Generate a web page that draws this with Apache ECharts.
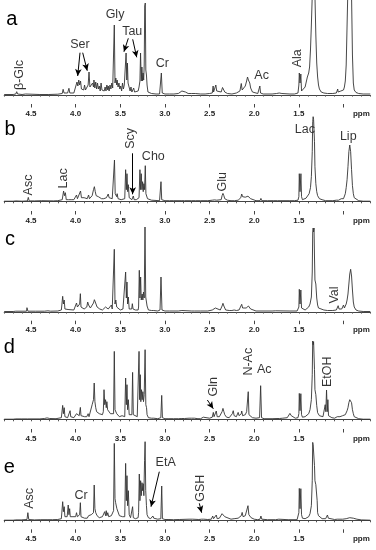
<!DOCTYPE html>
<html><head><meta charset="utf-8">
<script src="https://cdn.jsdelivr.net/npm/echarts@6/dist/echarts.min.js"></script>
<style>html,body{margin:0;padding:0;background:#fff}#c{width:376px;height:550px}</style>
</head><body><div id="c"></div>
<script>
// ---------- data (ppm, intensity above baseline) ----------
const tickLabels = [4.5, 4.0, 3.5, 3.0, 2.5, 2.0, 1.5];
const majorTicks = [4.5, 4.0, 3.5, 3.0, 2.5, 2.0, 1.5, 1.0];
const unitLabel = 'ppm';
const panelNames = ['a', 'b', 'c', 'd', 'e'];

const specA = [[4.80,0.5],[4.70,0.5],[4.67,1],[4.66,3.3],[4.65,1],[4.60,0.5],[4.56,1],[4.55,0.5],[4.40,0.5],[4.30,0.5],[4.20,0.8],[4.15,1.5],[4.14,5.7],[4.13,2],[4.09,2],[4.075,6.7],[4.065,2],[4.02,2],[4.00,4],[3.985,13],[3.975,9],[3.965,15],[3.955,10],[3.945,14],[3.935,6],[3.92,8],[3.91,5],[3.90,10],[3.89,5],[3.87,6],[3.86,10],[3.85,23],[3.84,8],[3.82,10],[3.81,12],[3.80,8],[3.795,15],[3.785,7],[3.775,13],[3.765,6],[3.755,12],[3.745,6],[3.735,9],[3.725,4],[3.715,12],[3.705,5],[3.69,6],[3.68,4],[3.67,8],[3.66,4],[3.65,10],[3.64,5],[3.635,9],[3.625,4],[3.615,10],[3.605,6],[3.595,12],[3.585,7],[3.575,8],[3.567,70],[3.559,12],[3.55,17],[3.54,10],[3.535,15],[3.525,8],[3.515,12],[3.505,6],[3.495,9],[3.485,4],[3.475,12],[3.465,6],[3.455,10],[3.445,8],[3.435,42],[3.427,15],[3.42,32],[3.413,12],[3.405,10],[3.39,4],[3.38,8],[3.37,3],[3.36,3],[3.35,7],[3.34,3],[3.32,3],[3.30,4],[3.29,8],[3.28,14],[3.273,42],[3.265,14],[3.258,28],[3.25,14],[3.245,22],[3.238,15],[3.232,30],[3.226,89],[3.22,92],[3.214,25],[3.207,20],[3.20,10],[3.19,3],[3.17,1.5],[3.15,1.5],[3.14,3],[3.13,1],[3.10,1],[3.06,1],[3.05,2],[3.04,22],[3.03,2],[3.00,1],[2.95,1],[2.90,1],[2.85,1.5],[2.81,4],[2.79,5],[2.77,3],[2.74,1.5],[2.70,1.5],[2.68,2.5],[2.66,1.5],[2.60,1],[2.55,1],[2.50,1.5],[2.47,2],[2.46,9],[2.455,3],[2.44,4],[2.43,10],[2.42,4],[2.41,5],[2.40,2],[2.37,3],[2.355,7.5],[2.345,6],[2.33,3],[2.30,1.5],[2.25,1],[2.20,2],[2.16,4],[2.145,11.5],[2.135,5],[2.12,5],[2.10,9],[2.085,14],[2.075,18],[2.065,15],[2.05,12],[2.04,7],[2.02,3],[2.00,2],[1.96,1.5],[1.945,2],[1.937,9],[1.929,2],[1.90,1],[1.80,1],[1.75,1.5],[1.72,2],[1.69,1.5],[1.60,1],[1.55,1],[1.51,2],[1.50,10],[1.495,22],[1.487,12],[1.478,21],[1.47,4],[1.46,3],[1.45,4],[1.43,8],[1.415,14],[1.405,18],[1.39,22],[1.38,28],[1.37,45],[1.36,70],[1.35,100],[1.34,130],[1.33,130],[1.32,100],[1.31,60],[1.30,32],[1.29,18],[1.28,10],[1.27,6],[1.25,3],[1.22,2],[1.18,1.5],[1.12,1.5],[1.08,2],[1.07,3],[1.065,6],[1.06,3],[1.05,3],[1.045,5],[1.04,3],[1.03,4],[1.02,6],[1.015,4],[1.01,6],[1.0,5],[0.99,8],[0.98,14],[0.97,30],[0.96,70],[0.95,110],[0.94,135],[0.92,135],[0.91,100],[0.90,40],[0.89,12],[0.88,5],[0.86,2.5],[0.83,1.5],[0.78,1],[0.70,1]];

const specB = [[4.80,0.5],[4.70,0.5],[4.67,0.8],[4.66,1.8],[4.65,0.8],[4.60,0.5],[4.54,0.8],[4.53,4.3],[4.52,0.8],[4.46,0.8],[4.45,1.3],[4.44,0.8],[4.38,1],[4.37,1.5],[4.36,1],[4.25,0.8],[4.20,1],[4.15,2],[4.135,10.7],[4.125,6],[4.115,9],[4.105,2],[4.08,2],[4.065,3.5],[4.05,2],[4.02,2],[4.00,3],[3.99,6.7],[3.98,3],[3.96,4],[3.945,10.7],[3.935,4],[3.92,3],[3.905,4],[3.89,2.5],[3.87,3],[3.855,6.7],[3.845,3],[3.83,3],[3.815,6],[3.80,12],[3.79,15],[3.78,10],[3.77,6],[3.76,4],[3.745,5],[3.73,3],[3.71,3],[3.70,2],[3.685,3],[3.67,2.5],[3.655,4],[3.645,3],[3.635,7.7],[3.625,4],[3.615,6],[3.605,3],[3.59,3],[3.575,4],[3.565,41.7],[3.557,8],[3.55,10],[3.54,5],[3.535,8],[3.525,3],[3.51,3],[3.49,2],[3.48,3],[3.47,2],[3.45,3],[3.44,32],[3.432,12],[3.425,28],[3.417,10],[3.41,17],[3.40,4],[3.39,3],[3.38,4],[3.37,2],[3.36,3],[3.354,5.7],[3.345,2],[3.32,2],[3.30,2.5],[3.29,4],[3.28,32],[3.272,12],[3.265,28],[3.257,12],[3.25,20],[3.243,10],[3.236,18],[3.228,12],[3.22,36],[3.213,8],[3.205,8],[3.195,3],[3.18,1.5],[3.15,1.5],[3.14,2],[3.13,1],[3.06,1],[3.052,2],[3.044,20],[3.036,2],[3.0,1],[2.95,1],[2.90,1],[2.81,1],[2.80,1.5],[2.78,1],[2.70,1],[2.68,1.5],[2.66,1],[2.60,1],[2.52,1],[2.47,1.5],[2.455,2.7],[2.445,1.8],[2.43,3],[2.42,1.5],[2.37,2],[2.36,6],[2.35,8.3],[2.34,6],[2.33,3],[2.30,1.5],[2.26,1],[2.25,1.5],[2.22,1],[2.18,1.5],[2.15,4],[2.14,7.7],[2.13,5],[2.115,4],[2.10,4.5],[2.085,6],[2.07,5.5],[2.055,5],[2.04,3],[2.02,1.5],[1.98,1],[1.935,1],[1.925,3.3],[1.915,1],[1.85,1],[1.78,1],[1.74,1],[1.72,1.3],[1.70,1],[1.60,1],[1.55,1],[1.51,1.5],[1.50,5],[1.495,28],[1.487,10],[1.477,28],[1.47,5],[1.46,2],[1.44,2.5],[1.42,3.5],[1.40,5],[1.385,8],[1.37,14],[1.36,25],[1.35,50],[1.345,80],[1.34,85],[1.335,82],[1.33,84],[1.325,60],[1.32,35],[1.31,18],[1.30,10],[1.29,6],[1.27,3],[1.24,2],[1.20,1],[1.12,1],[1.08,1.5],[1.065,2.5],[1.055,1.5],[1.04,2],[1.025,3],[1.015,2],[1.0,3],[0.99,4],[0.98,8],[0.97,14],[0.96,22],[0.95,35],[0.94,50],[0.93,56.7],[0.92,50],[0.91,32],[0.90,16],[0.89,8],[0.88,4],[0.86,2],[0.83,1],[0.78,0.5],[0.70,0.5]];

const specC = [[4.80,0.5],[4.70,0.5],[4.67,0.8],[4.66,1.3],[4.65,0.8],[4.55,0.8],[4.545,4.3],[4.535,0.8],[4.45,0.8],[4.35,0.8],[4.31,1.2],[4.28,0.8],[4.2,1],[4.16,2],[4.145,15.7],[4.137,8],[4.128,12],[4.12,3],[4.10,2],[4.085,2.5],[4.075,3],[4.065,2],[4.02,2],[4.00,4],[3.99,9],[3.98,5],[3.97,7],[3.96,4],[3.955,8],[3.947,18.3],[3.94,5],[3.92,3],[3.905,3],[3.89,2.5],[3.875,5],[3.865,10],[3.855,7],[3.845,8],[3.835,4],[3.82,4],[3.80,9],[3.79,12.3],[3.78,10],[3.77,8],[3.76,5],[3.745,4],[3.73,3],[3.71,3],[3.70,2],[3.68,3],[3.665,5],[3.655,3],[3.645,6],[3.635,3],[3.625,5],[3.615,4],[3.60,7],[3.59,3],[3.575,5],[3.567,62.7],[3.559,8],[3.55,12],[3.54,5],[3.53,6],[3.52,3],[3.50,2],[3.48,2],[3.47,3],[3.46,2],[3.448,3],[3.44,40],[3.432,14],[3.425,30],[3.418,8],[3.41,15],[3.40,3],[3.38,2],[3.372,3],[3.365,8.3],[3.357,3],[3.33,2],[3.30,2],[3.295,5],[3.287,41.7],[3.28,14],[3.272,35],[3.265,12],[3.255,18],[3.247,12],[3.24,20],[3.232,14],[3.223,85],[3.215,15],[3.207,15],[3.20,6],[3.185,2],[3.15,1.5],[3.135,3],[3.125,1.5],[3.08,1],[3.055,2],[3.044,35],[3.033,2],[3.0,1],[2.95,1],[2.85,1],[2.81,1.5],[2.79,1],[2.70,1],[2.685,1.5],[2.67,1],[2.60,1],[2.52,1],[2.47,2],[2.46,3],[2.45,2],[2.435,4],[2.425,2],[2.38,2],[2.36,6],[2.35,8.7],[2.34,6],[2.33,5],[2.32,2],[2.28,1.5],[2.25,1.5],[2.225,2],[2.20,1.5],[2.17,2],[2.15,4],[2.14,7.7],[2.13,4],[2.12,5],[2.11,3],[2.09,4],[2.08,5],[2.065,6],[2.05,4],[2.04,3],[2.02,1.5],[1.98,1],[1.935,1],[1.925,2.7],[1.915,1],[1.80,1],[1.76,1.2],[1.74,1],[1.60,1],[1.52,1],[1.51,1.5],[1.50,5],[1.495,22.7],[1.487,8],[1.478,22],[1.47,4],[1.46,2],[1.43,2],[1.41,3],[1.39,5],[1.375,8],[1.36,15],[1.35,40],[1.345,80],[1.34,84],[1.335,80],[1.33,84],[1.325,55],[1.32,32],[1.315,30],[1.31,28],[1.30,14],[1.29,7],[1.28,4],[1.26,2.5],[1.22,2],[1.18,1.5],[1.12,1.5],[1.08,2],[1.07,3],[1.06,6.3],[1.05,3],[1.04,3],[1.03,4],[1.02,3],[1.01,4],[1.0,7],[0.99,4],[0.98,5],[0.97,8],[0.96,12],[0.95,18],[0.94,28],[0.93,38],[0.92,42.7],[0.91,36],[0.90,22],[0.89,10],[0.88,5],[0.86,2],[0.83,1],[0.78,0.5],[0.70,0.5]];

const specD = [[4.80,0.5],[4.70,0.5],[4.67,0.8],[4.66,1.5],[4.65,0.8],[4.61,0.8],[4.60,1.2],[4.59,0.8],[4.54,0.8],[4.53,1.2],[4.52,0.8],[4.40,0.8],[4.35,1.2],[4.32,1.8],[4.29,1.2],[4.22,1],[4.16,2],[4.145,14.3],[4.137,6],[4.128,12],[4.12,3],[4.09,2],[4.07,3],[4.062,9],[4.055,3],[4.02,2],[4.00,3],[3.99,6],[3.98,4],[3.97,7],[3.96,4],[3.955,6],[3.947,12.3],[3.94,4],[3.92,3],[3.90,3],[3.885,4],[3.875,3],[3.86,6],[3.85,3],[3.83,5],[3.815,15],[3.80,20],[3.792,36.7],[3.784,18],[3.775,12],[3.765,8],[3.75,6],[3.735,6],[3.72,4],[3.70,5],[3.69,8],[3.682,30],[3.674,15],[3.665,20],[3.657,12],[3.65,18],[3.642,10],[3.635,12],[3.627,8],[3.62,9],[3.61,6],[3.60,8],[3.59,5],[3.575,6],[3.567,68.3],[3.559,10],[3.55,12],[3.54,6],[3.535,8],[3.525,4],[3.51,3],[3.49,3],[3.48,4],[3.47,3],[3.45,3],[3.44,41.7],[3.432,15],[3.425,35],[3.418,10],[3.41,20],[3.40,5],[3.385,3],[3.37,5],[3.362,47.3],[3.354,5],[3.34,3],[3.31,3],[3.30,5],[3.29,68.3],[3.283,20],[3.276,45],[3.27,18],[3.262,30],[3.255,20],[3.247,28],[3.24,18],[3.232,25],[3.222,70],[3.214,15],[3.206,12],[3.20,5],[3.185,2],[3.15,1.5],[3.135,3],[3.125,1.5],[3.08,1],[3.046,2],[3.036,24.3],[3.028,2],[3.0,1],[2.955,1],[2.95,2],[2.94,1],[2.905,1],[2.90,2],[2.89,1],[2.85,1],[2.81,1.2],[2.80,1.8],[2.78,1.2],[2.73,1.5],[2.72,2.5],[2.70,1.5],[2.685,2.5],[2.67,1.5],[2.63,1],[2.62,1.5],[2.60,1],[2.58,1.5],[2.57,2.5],[2.56,1.5],[2.50,1.5],[2.47,2.5],[2.458,7.3],[2.45,3],[2.435,5],[2.425,8.7],[2.415,3],[2.39,3],[2.36,8],[2.35,11.3],[2.34,8],[2.33,5],[2.31,2.5],[2.28,2],[2.26,3],[2.245,6],[2.235,9],[2.225,4],[2.20,3],[2.19,5],[2.18,7.3],[2.17,4],[2.16,4],[2.145,6],[2.14,8.7],[2.13,4],[2.115,4],[2.10,5],[2.085,8],[2.075,6],[2.067,28],[2.059,5],[2.04,3],[2.02,2],[1.98,1.5],[1.94,2],[1.928,34],[1.918,2],[1.89,1],[1.80,1],[1.745,1.2],[1.73,2],[1.715,1.2],[1.68,1.5],[1.63,2],[1.615,4],[1.60,6.3],[1.585,4],[1.57,2],[1.54,1.5],[1.51,2],[1.50,6],[1.495,26.3],[1.487,9],[1.478,26],[1.47,5],[1.46,2.5],[1.43,3],[1.41,4],[1.39,6],[1.375,10],[1.36,20],[1.35,45],[1.345,78.7],[1.34,75],[1.335,78],[1.33,78.7],[1.325,50],[1.32,30],[1.315,28],[1.31,25],[1.30,14],[1.29,7],[1.27,4],[1.25,3],[1.23,3],[1.215,4],[1.205,15],[1.198,8],[1.19,29.7],[1.182,8],[1.175,20],[1.168,4],[1.16,3],[1.13,2],[1.10,1.5],[1.08,2],[1.07,3],[1.06,5],[1.05,3],[1.04,3],[1.03,4],[1.02,3],[1.01,4],[1.0,5],[0.99,4],[0.98,5],[0.97,7],[0.96,9],[0.95,12],[0.94,17],[0.93,20],[0.92,20.7],[0.91,17],[0.90,10],[0.89,6],[0.88,3],[0.86,2],[0.83,1],[0.78,0.5],[0.70,0.5]];

const specE = [[4.80,0.5],[4.70,0.5],[4.67,0.8],[4.66,1.2],[4.65,0.8],[4.61,0.8],[4.60,1.5],[4.59,0.8],[4.545,1.2],[4.535,8],[4.525,1.2],[4.46,0.8],[4.45,1.3],[4.44,0.8],[4.39,1],[4.38,2],[4.37,1],[4.31,1],[4.30,1.5],[4.29,1],[4.26,1],[4.25,1.5],[4.24,1],[4.20,1.2],[4.16,2],[4.145,19],[4.137,9],[4.128,14],[4.12,4],[4.095,4],[4.083,15.7],[4.075,6],[4.067,12],[4.06,4],[4.04,3],[4.03,4],[4.02,3],[4.00,4],[3.99,8],[3.98,4],[3.97,6],[3.96,4],[3.955,6],[3.947,18],[3.94,4],[3.92,3],[3.90,2.5],[3.885,3],[3.87,2.5],[3.855,5],[3.84,3],[3.825,6],[3.815,4],[3.80,8],[3.792,35.7],[3.784,12],[3.775,8],[3.76,5],[3.75,5],[3.735,3],[3.72,3],[3.70,4],[3.685,3],[3.675,9],[3.665,5],[3.657,10],[3.65,5],[3.64,8],[3.63,4],[3.62,6],[3.61,3],[3.60,5],[3.585,6],[3.575,10],[3.567,77.3],[3.559,22],[3.552,18],[3.545,20],[3.538,12],[3.53,12],[3.52,10],[3.51,5],[3.49,3],[3.475,4],[3.465,2.5],[3.45,4],[3.44,57.3],[3.432,20],[3.425,45],[3.418,15],[3.41,30],[3.40,6],[3.385,3],[3.37,4],[3.362,14],[3.354,3],[3.33,2],[3.30,3],[3.295,8],[3.287,46.7],[3.28,20],[3.272,40],[3.265,25],[3.257,38],[3.25,30],[3.243,37],[3.236,25],[3.228,60],[3.222,79],[3.215,30],[3.207,15],[3.20,6],[3.185,3],[3.16,2],[3.145,2.5],[3.135,4.7],[3.125,2.5],[3.11,1.5],[3.08,1.5],[3.046,2],[3.036,34.7],[3.028,2],[3.0,1.2],[2.955,1.2],[2.95,2],[2.94,1.2],[2.905,1],[2.90,1.5],[2.89,1],[2.84,1.2],[2.83,2],[2.82,1.2],[2.73,1.5],[2.72,3],[2.71,1.5],[2.69,1.5],[2.68,3],[2.67,1.5],[2.62,1.2],[2.59,1.5],[2.577,3],[2.565,1.5],[2.52,1.2],[2.48,1.5],[2.465,4.7],[2.455,2],[2.44,2.5],[2.425,5.7],[2.415,2],[2.39,2.5],[2.37,4],[2.36,7],[2.35,8.3],[2.34,6],[2.33,4],[2.31,2],[2.26,1.5],[2.225,2],[2.21,1.5],[2.18,2.5],[2.17,4],[2.16,3],[2.145,5],[2.135,8.3],[2.125,4],[2.11,4],[2.10,5],[2.09,3],[2.08,6],[2.07,15],[2.06,6],[2.045,6],[2.035,3],[2.00,1.5],[1.96,1],[1.935,1.5],[1.925,4.7],[1.915,1.5],[1.85,1],[1.76,1],[1.725,1.5],[1.71,1],[1.62,1],[1.52,1],[1.51,2],[1.50,8],[1.495,32.3],[1.487,12],[1.478,32],[1.47,6],[1.46,2.5],[1.43,2],[1.41,3],[1.39,4],[1.375,7],[1.36,15],[1.35,40],[1.345,78.3],[1.34,76],[1.335,78],[1.33,78.3],[1.325,55],[1.32,40],[1.31,36],[1.30,34],[1.295,20],[1.29,8],[1.28,5],[1.27,3],[1.24,2],[1.20,2],[1.19,3],[1.18,5.7],[1.17,2.5],[1.15,1.5],[1.10,1.2],[1.07,1.5],[1.06,2],[1.05,1.5],[1.01,1.5],[1.0,2],[0.99,1.5],[0.97,2],[0.95,2.5],[0.93,3],[0.91,3],[0.89,2.5],[0.87,2],[0.85,1.5],[0.80,0.8],[0.70,0.5]];

// annotations: [text, ppm, intensity, rotated(1) or not(0)]
const labelsA = [['β-Glc',4.631,20,1],['Ser',3.951,50,0],['Gly',3.559,80,0],['Tau',3.366,63.3,0],['Cr',3.030,31,0],['Ac',1.917,19,0],['Ala',1.518,36.7,1]];
const labelsB = [['Asc',4.530,16.7,1],['Lac',4.138,23.4,1],['Scy',3.380,63.4,1],['Cho',3.130,45,0],['Glu',2.353,20,1],['Lac',1.432,71.7,0],['Lip',0.947,65,0]];
const labelsC = [['Val',1.104,17,1]];
const labelsD = [['Gln',2.459,33,1],['N-Ac',2.067,58,1],['Ac',1.887,49.7,0],['EtOH',1.178,48,1]];
const labelsE = [['Asc',4.519,22.4,1],['Cr',3.940,24.7,0],['EtA',2.992,58.4,0],['GSH',2.600,32.4,1]];
// arrows: [ppm from, intensity from, ppm to, intensity to]
const arrowsA = [[3.951,42.3,3.977,19],[3.921,42.3,3.870,24.3],[3.410,56.7,3.459,43.3],[3.361,55.7,3.316,37.7]];
const arrowsB = [[3.361,48.4,3.361,7.4]];
const arrowsC = [];
const arrowsD = [[2.525,19.7,2.458,11]];
const arrowsE = [[3.063,49,3.156,14],[2.615,17.4,2.589,8]];

// ---------- layout ----------
const layout = [
  {baseline:95,    axisY:104,   max:95},
  {baseline:201.7, axisY:211,   max:90},
  {baseline:312,   axisY:320.7, max:90},
  {baseline:419.7, axisY:429,   max:85},
  {baseline:520.7, axisY:529.3, max:85}
];
const letterPos = [[11.7,19],[10,129],[10,239],[9.3,347],[9.3,467]];
const specs = [specA, specB, specC, specD, specE];
const labels = [labelsA, labelsB, labelsC, labelsD, labelsE];
const arrows = [arrowsA, arrowsB, arrowsC, arrowsD, arrowsE];

const FONT = '"Liberation Sans", Arial, sans-serif';
const grid = [], xAxis = [], yAxis = [], series = [], graphic = [];
const XMIN = 0.7, XMAX = 4.8;
layout.forEach((L, i) => {
  const top = L.baseline - L.max;
  grid.push({left: 4.2, width: 366.1, top: top, height: L.axisY - top});
  xAxis.push({
    gridIndex: i, type: 'value', inverse: true, min: XMIN, max: XMAX, interval: 0.1,
    position: 'bottom',
    axisLine: {lineStyle: {color: '#444', width: 1}},
    axisTick: {length: 1.6, lineStyle: {color: '#555', width: 1}},
    axisLabel: {
      customValues: tickLabels.concat([0.8]),
      formatter: v => v < 1 ? unitLabel : v.toFixed(1),
      fontSize: 8, fontWeight: 'bold', color: '#1e1e1e', fontFamily: FONT, margin: 5.5
    },
    splitLine: {show: false}
  });
  xAxis.push({
    gridIndex: i, type: 'value', inverse: true, min: XMIN, max: XMAX, interval: 0.1,
    position: 'bottom',
    axisLine: {show: false},
    axisTick: {show: true, customValues: majorTicks, length: 3.5, lineStyle: {color: '#444', width: 1}},
    axisLabel: {show: false},
    splitLine: {show: false}
  });
  yAxis.push({gridIndex: i, type: 'value', min: -(L.axisY - L.baseline), max: L.max, show: false});
  series.push({
    type: 'line', xAxisIndex: 2 * i, yAxisIndex: i, data: specs[i], showSymbol: false,
    symbol: 'none', lineStyle: {color: '#333', width: 0.9}, clip: true, silent: true
  });
  series.push({
    type: 'scatter', xAxisIndex: 2 * i, yAxisIndex: i, symbolSize: 1, silent: true,
    itemStyle: {color: 'rgba(0,0,0,0)'},
    data: labels[i].map(l => ({
      value: [l[1], l[2]],
      label: {show: true, position: 'inside', formatter: l[0], rotate: l[3] ? 90 : 0,
              fontSize: 12.5, color: '#000', fontFamily: FONT}
    })),
    markLine: {
      silent: true, symbol: ['none', 'arrow'], symbolSize: [5, 7], animation: false,
      lineStyle: {color: '#000', width: 1, type: 'solid'}, label: {show: false},
      data: arrows[i].map(a => [{coord: [a[0], a[1]]}, {coord: [a[2], a[3]]}])
    }
  });
  graphic.push({
    type: 'text', x: letterPos[i][0], y: letterPos[i][1],
    style: {text: panelNames[i], font: '20px ' + FONT, fill: '#000', align: 'center', verticalAlign: 'middle'}
  });
});

const chart = echarts.init(document.getElementById('c'), null, {renderer: 'canvas'});
chart.setOption({animation: false, backgroundColor: '#fff', grid, xAxis, yAxis, series, graphic});
</script></body></html>
